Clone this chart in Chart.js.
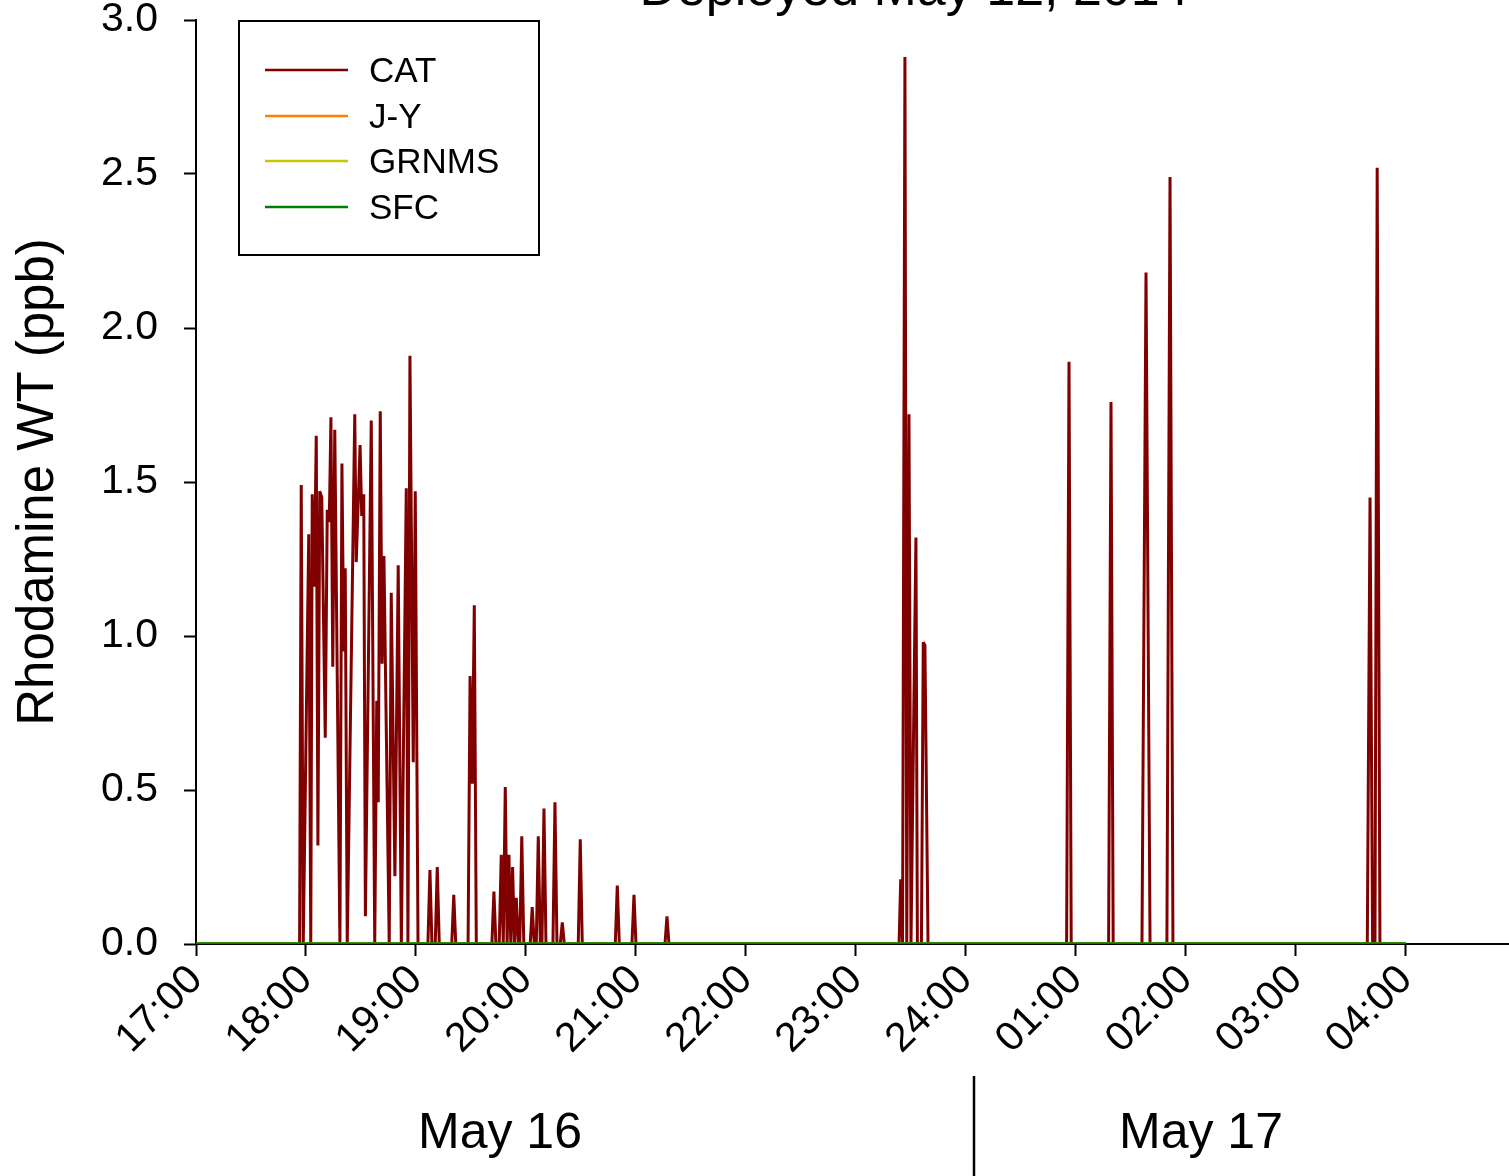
<!DOCTYPE html>
<html>
<head>
<meta charset="utf-8">
<title>Rhodamine WT</title>
<script src="https://cdn.jsdelivr.net/npm/chart.js@4.4.1/dist/chart.umd.min.js"></script>
<style>
  html, body { margin: 0; padding: 0; background: #fff; }
  canvas { display: block; }
</style>
</head>
<body>
<canvas id="chart" width="1509" height="1176"></canvas>
<script>
// Series names and colours
const seriesNames = ['CAT', 'J-Y', 'GRNMS', 'SFC'];
const seriesColors = ['#800000', '#ff8000', '#c8c800', '#008000'];

// CAT: minutes after 17:00 (May 16) and Rhodamine WT in ppb
const catTimes = [
  0, 56.5, 57.4, 58.5, 61.5, 62.6, 63.4, 64.5, 65.6, 66.5, 67.5, 68.6,
  70.5, 71.6, 72.7, 73.6, 74.6, 75.7, 78.5, 79.6, 80.6, 81.4, 82.5, 86.6,
  87.4, 89.5, 90.4, 91.5, 92.4, 95.6, 97.5, 98.6, 99.4, 100.5, 101.5, 102.5,
  103.6, 105.4, 106.5, 108.5, 110.3, 112.0, 114.7, 115.6, 116.7, 118.5, 119.6, 121.1,
  126.5, 127.6, 128.7, 130.5, 131.6, 132.7, 139.5, 140.6, 141.7, 148.4, 149.5, 150.7,
  151.8, 152.9, 161.4, 162.5, 163.6, 165.4, 166.5, 167.6, 168.7, 169.7, 170.7, 171.7,
  172.7, 173.7, 174.7, 175.8, 176.6, 177.7, 178.8, 182.3, 183.4, 184.5, 185.6, 186.7,
  187.8, 188.7, 189.8, 190.9, 194.7, 195.8, 196.9, 198.7, 199.8, 200.9, 208.5, 209.6,
  210.7, 228.7, 229.8, 230.9, 237.8, 238.9, 240.0, 255.8, 256.9, 258.0,
  383.5, 384.4, 385.4, 386.7, 387.7, 388.9, 390.0, 392.7, 393.5, 395.7, 396.7, 397.6, 399.3,
  474.9, 476.2, 477.4, 497.8, 499.1, 500.3, 516.0, 518.2, 520.4, 529.6, 531.3, 532.9,
  638.9, 640.4, 641.8, 643.1, 644.3, 645.8, 660
];
const catValues = [
  0, 0, 1.49, 0, 1.33, 0, 1.46, 1.16, 1.65, 0.32, 1.47, 1.45,
  0.67, 1.41, 1.37, 1.71, 0.90, 1.67, 0, 1.56, 0.95, 1.22, 0, 1.72,
  1.24, 1.62, 1.39, 1.46, 0.09, 1.70, 0, 0.79, 0.46, 1.73, 0.91, 1.26,
  0.78, 0, 1.14, 0.22, 1.23, 0, 1.48, 0, 1.91, 0.59, 1.47, 0,
  0, 0.24, 0, 0, 0.25, 0, 0, 0.16, 0, 0, 0.87, 0.52,
  1.10, 0, 0, 0.17, 0, 0, 0.29, 0, 0.51, 0, 0.29, 0,
  0.25, 0, 0.15, 0, 0, 0.35, 0, 0, 0.12, 0, 0, 0.35,
  0, 0, 0.44, 0, 0, 0.46, 0, 0, 0.07, 0, 0, 0.34,
  0, 0, 0.19, 0, 0, 0.16, 0, 0, 0.09, 0,
  0, 0.21, 0, 2.88, 0, 1.72, 0, 1.32, 0, 0, 0.98, 0.97, 0,
  0, 1.89, 0, 0, 1.76, 0, 0, 2.18, 0, 0, 2.49, 0,
  0, 1.45, 0, 0, 2.52, 0, 0
];

// J-Y, GRNMS and SFC stay at zero the whole time
const jyTimes = [0, 660];
const jyValues = [0, 0];
const grnmsTimes = [0, 660];
const grnmsValues = [0, 0];
const sfcTimes = [0, 660];
const sfcValues = [0, 0];

// Axis ticks
const xTickMinutes = [0, 60, 120, 180, 240, 300, 360, 420, 480, 540, 600, 660];
const xTickLabels = ['17:00', '18:00', '19:00', '20:00', '21:00', '22:00', '23:00',
                     '24:00', '01:00', '02:00', '03:00', '04:00'];
const xMax = 716.2;
const yTicks = [0, 0.5, 1.0, 1.5, 2.0, 2.5, 3.0];

const titleText = 'Deployed May 12, 2014';
const yTitle = 'Rhodamine WT (ppb)';
const dayLabels = ['May 16', 'May 17'];

const FONT = '"Liberation Sans", Arial, Helvetica, sans-serif';

function toPoints(times, values) {
    return times.map((t, i) => ({ x: t, y: values[i] }));
}

// Title, date labels and framed legend
const extras = {
    id: 'extras',
    afterDraw(chart) {
        const ctx = chart.ctx;
        ctx.save();
        ctx.fillStyle = '#000';
        ctx.textAlign = 'center';
        ctx.textBaseline = 'alphabetic';
        ctx.font = '52px ' + FONT;
        ctx.fillText(titleText, 914, 5);
        ctx.font = '50px ' + FONT;
        ctx.fillText(dayLabels[0], 500, 1148);
        ctx.fillText(dayLabels[1], 1201, 1148);

        // separator between the two days
        ctx.strokeStyle = '#000';
        ctx.lineWidth = 2.5;
        ctx.beginPath();
        ctx.moveTo(974, 1076);
        ctx.lineTo(974, 1176);
        ctx.stroke();

        // legend box
        ctx.lineWidth = 2;
        ctx.strokeRect(239, 21, 300, 234);
        ctx.font = '35px ' + FONT;
        ctx.textAlign = 'left';
        ctx.textBaseline = 'middle';
        const rowY = [70, 116, 161, 207];
        seriesNames.forEach((name, i) => {
            ctx.strokeStyle = seriesColors[i];
            ctx.lineWidth = 2.5;
            ctx.beginPath();
            ctx.moveTo(265, rowY[i]);
            ctx.lineTo(348, rowY[i]);
            ctx.stroke();
            ctx.fillStyle = '#000';
            ctx.fillText(name, 369, rowY[i] + 2);
        });
        ctx.restore();
    }
};

const seriesData = [
    toPoints(catTimes, catValues),
    toPoints(jyTimes, jyValues),
    toPoints(grnmsTimes, grnmsValues),
    toPoints(sfcTimes, sfcValues)
];

const ctx = document.getElementById('chart').getContext('2d');
new Chart(ctx, {
    type: 'line',
    data: {
        datasets: seriesNames.map((name, i) => ({
            label: name,
            data: seriesData[i],
            borderColor: seriesColors[i],
            backgroundColor: seriesColors[i],
            borderWidth: i === 3 ? 3.5 : 3,
            borderJoinStyle: 'bevel',
            pointRadius: 0,
            tension: 0,
            fill: false,
            order: 4 - i
        }))
    },
    options: {
        responsive: false,
        animation: false,
        devicePixelRatio: 1,
        layout: { padding: { top: 20, left: 0, right: 0, bottom: 0 } },
        plugins: {
            legend: { display: false },
            title: { display: false },
            tooltip: { enabled: false }
        },
        scales: {
            x: {
                type: 'linear',
                min: 0,
                max: xMax,
                afterFit: (scale) => {
                    scale.height = 232;
                    scale.paddingLeft = 0;
                    scale.paddingRight = 0;
                },
                afterBuildTicks: (scale) => {
                    scale.ticks = xTickMinutes.map(v => ({ value: v }));
                },
                border: { display: true, color: '#000', width: 2 },
                grid: {
                    display: true,
                    drawOnChartArea: false,
                    drawTicks: true,
                    tickLength: 12,
                    tickWidth: 2,
                    tickColor: '#000'
                },
                ticks: {
                    autoSkip: false,
                    minRotation: 45,
                    maxRotation: 45,
                    padding: 0,
                    color: '#000',
                    font: { family: FONT, size: 41 },
                    callback: (value) => {
                        const idx = xTickMinutes.indexOf(value);
                        return idx >= 0 ? xTickLabels[idx] : '';
                    }
                }
            },
            y: {
                type: 'linear',
                min: 0,
                max: 3,
                afterFit: (scale) => {
                    scale.width = 196;
                    scale.paddingTop = 0;
                    scale.paddingBottom = 0;
                },
                afterBuildTicks: (scale) => {
                    scale.ticks = yTicks.map(v => ({ value: v }));
                },
                border: { display: true, color: '#000', width: 2 },
                grid: {
                    display: true,
                    drawOnChartArea: false,
                    drawTicks: true,
                    tickLength: 12,
                    tickWidth: 2,
                    tickColor: '#000'
                },
                ticks: {
                    padding: 26,
                    color: '#000',
                    font: { family: FONT, size: 41 },
                    callback: (value) => value.toFixed(1)
                },
                title: {
                    display: true,
                    text: yTitle,
                    color: '#000',
                    font: { family: FONT, size: 51 },
                    padding: { top: 8, bottom: 0 }
                }
            }
        }
    },
    plugins: [extras]
});
</script>
</body>
</html>
